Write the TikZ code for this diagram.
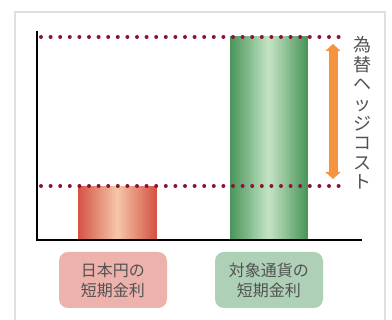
\documentclass[tikz,border=0pt]{standalone}
\usepackage{fontspec}
\newfontfamily\jpfont{Noto Sans CJK JP}
\usetikzlibrary{arrows.meta}

\definecolor{jpyedge}{RGB}{214, 84, 70}
\definecolor{jpymid}{RGB}{246, 200, 170}
\definecolor{fxedge}{RGB}{76, 150, 92}
\definecolor{fxmid}{RGB}{196, 228, 196}
\definecolor{dotred}{RGB}{140, 20, 60}
\definecolor{hedgeorange}{RGB}{242, 148, 64}

\tikzset{
	dotline/.style = {draw=dotred, line width=4pt, line cap=round, dash pattern=on 0pt off 9.6pt},
	lblbox/.style = {rounded corners=9pt, minimum width=108pt, minimum height=56pt, align=center,
		font=\jpfont\fontsize{16}{20}\selectfont, text=black!68, inner sep=2pt}
}

% bar with a light stripe down its middle
\newcommand{\gradbar}[6]{%
	\foreach \i in {0, ..., 39} {
		\pgfmathsetmacro{\mix}{100 * abs(\i - 19.5) / 19.5}
		\fill[#6!\mix!#5] ({#1 + (#3 - #1) * \i / 40}, #2) rectangle ({#1 + (#3 - #1) * (\i + 1) / 40 + 0.3}, #4);
	}
}

\begin{document}
\begin{tikzpicture}[x=1pt, y=-1pt]
	
		\useasboundingbox (0, 0) rectangle (392, 320);
		\fill[white] (0, 0) rectangle (392, 320);
		\draw[black!12, line width=2pt] (15, 12) rectangle (385, 330);
		
		% bars
		\gradbar{78}{186}{157}{240}{jpymid}{jpyedge}
		\gradbar{230}{36}{308}{240}{fxmid}{fxedge}
		
		% axes
		\draw[line width=2.2pt] (37, 31) -- (37, 240) -- (362, 240);
		
		% levels
		\draw[dotline] (41, 37) -- (345, 37);
		\draw[dotline] (41, 186) -- (345, 186);
		
		% hedge cost
		\coordinate (arrtop) at (333, 44);
		\coordinate (arrbot) at (333, 179);
		\draw[hedgeorange, line width=9pt, {Triangle[length=7pt, width=15pt]}-{Triangle[length=7pt, width=15pt]}]
			(arrtop) -- (arrbot);
		\node[font=\jpfont\fontsize{18}{19.6}\selectfont, text=black!68, align=center, inner sep=0pt] (hedge)
			at (362, 113) {為\\替\\ヘ\\ッ\\ジ\\コ\\ス\\ト};
		
		% labels
		\node[lblbox, fill=jpyedge!45!white] (lbljpy) at (113, 280) {日本円の\\短期金利};
		\node[lblbox, fill=fxedge!45!white] (lblfx) at (269, 280) {対象通貨の\\短期金利};
		
	\end{tikzpicture}
\end{document}
